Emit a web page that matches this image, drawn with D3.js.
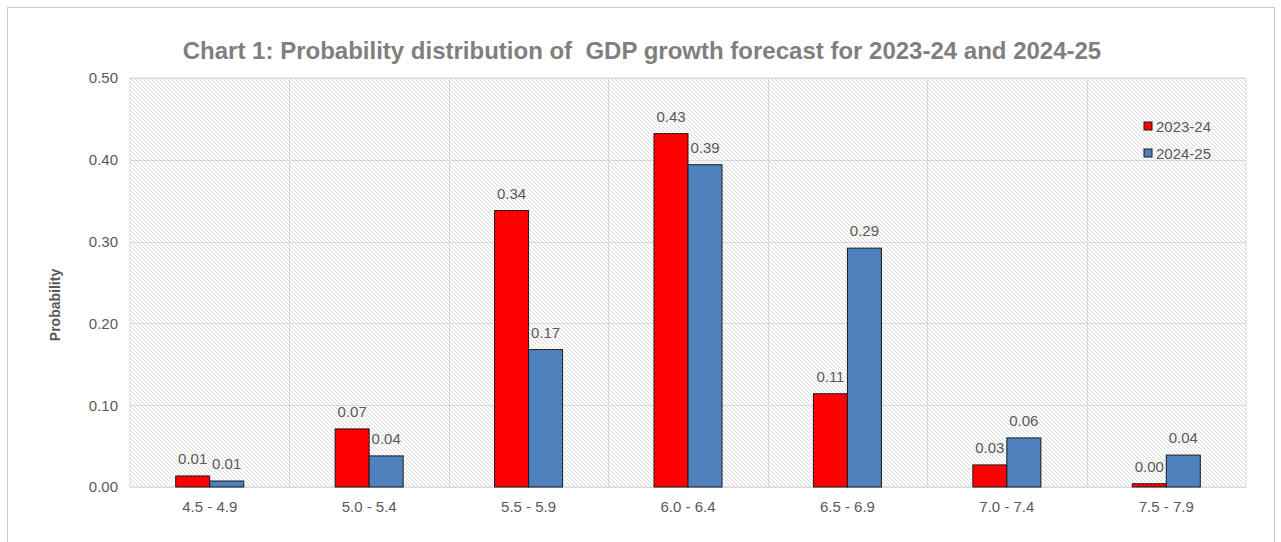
<!DOCTYPE html>
<html>
<head>
<meta charset="utf-8">
<script src="https://cdn.jsdelivr.net/npm/d3@7"></script>
<style>
  body { margin: 0; background: #fff; }
  text { font-family: Arial, "Liberation Sans", sans-serif; }
</style>
</head>
<body>
<div id="chart"></div>
<script>
// chart data
const categories = ["4.5 - 4.9", "5.0 - 5.4", "5.5 - 5.9", "6.0 - 6.4", "6.5 - 6.9", "7.0 - 7.4", "7.5 - 7.9"];
const seriesNames = ["2023-24", "2024-25"];
const values2324 = [0.0135, 0.071, 0.338, 0.432, 0.114, 0.027, 0.004];
const values2425 = [0.0073, 0.038, 0.168, 0.394, 0.292, 0.060, 0.039];
const yTicks = [0, 0.1, 0.2, 0.3, 0.4, 0.5];
const colors = ["#ff0000", "#4f81bd"];

const width = 1281;
const height = 542;
const margin = {left: 130, right: 35, top: 78, bottom: 55};

const svg = d3.select("#chart")
  .append("svg")
  .attr("width", width)
  .attr("height", height);

// hatch pattern for the plot background
const defs = svg.append("defs");
const pat = defs.append("pattern")
  .attr("id", "hatch")
  .attr("patternUnits", "userSpaceOnUse")
  .attr("width", 4)
  .attr("height", 4);
pat.append("rect").attr("width", 4).attr("height", 4).attr("fill", "#fff");
pat.append("path")
  .attr("d", "M-1,-1 L5,5 M-1,3 L1,5 M3,-1 L5,1")
  .attr("stroke", "#cfcfcf")
  .attr("stroke-width", 0.8);

// outer frame
svg.append("rect")
  .attr("x", 7.5).attr("y", 7.5)
  .attr("width", 1267).attr("height", 560)
  .attr("fill", "none")
  .attr("stroke", "#c8c8c8");

const x0 = d3.scaleBand()
  .domain(categories)
  .range([margin.left, width - margin.right]);

const x1 = d3.scaleBand()
  .domain(seriesNames)
  .range([0, 68]);

const y = d3.scaleLinear()
  .domain([0, 0.5])
  .range([height - margin.bottom, margin.top]);

// plot area
svg.append("rect")
  .attr("x", margin.left).attr("y", margin.top)
  .attr("width", width - margin.right - margin.left)
  .attr("height", y(0) - margin.top)
  .attr("fill", "url(#hatch)")
  .attr("stroke", "#d9d9d9");

// gridlines
svg.append("g")
  .selectAll("line")
  .data(yTicks)
  .join("line")
  .attr("x1", margin.left).attr("x2", width - margin.right)
  .attr("y1", d => Math.round(y(d)) + 0.5).attr("y2", d => Math.round(y(d)) + 0.5)
  .attr("stroke", "#d9d9d9");

svg.append("g")
  .selectAll("line")
  .data(categories.slice(1))
  .join("line")
  .attr("x1", d => Math.round(x0(d)) + 0.5).attr("x2", d => Math.round(x0(d)) + 0.5)
  .attr("y1", margin.top).attr("y2", y(0))
  .attr("stroke", "#d9d9d9");

// y axis
const yAxis = svg.append("g")
  .attr("transform", `translate(${margin.left},0)`)
  .call(d3.axisLeft(y).tickValues(yTicks).tickFormat(d3.format(".2f")).tickSize(0).tickPadding(12));
yAxis.select(".domain").remove();
yAxis.selectAll("text").attr("font-size", "15px").attr("fill", "#595959");

// x axis
const xAxis = svg.append("g")
  .attr("transform", `translate(0,${y(0)})`)
  .call(d3.axisBottom(x0).tickSize(0).tickPadding(14));
xAxis.select(".domain").attr("stroke", "#d9d9d9");
xAxis.selectAll("text").attr("font-size", "15px").attr("fill", "#595959");

// bars
const rows = categories.map((c, i) => ({cat: c, vals: [values2324[i], values2425[i]]}));
const groups = svg.append("g")
  .selectAll("g")
  .data(rows)
  .join("g")
  .attr("transform", d => `translate(${x0(d.cat) + x0.bandwidth() / 2 - 34},0)`);

groups.selectAll("rect")
  .data(d => d.vals.map((v, j) => ({name: seriesNames[j], v: v, j: j})))
  .join("rect")
  .attr("x", d => x1(d.name))
  .attr("y", d => y(d.v))
  .attr("width", x1.bandwidth())
  .attr("height", d => y(0) - y(d.v))
  .attr("fill", d => colors[d.j])
  .attr("stroke", "#1a1a1a")
  .attr("stroke-width", 1);

groups.selectAll("text")
  .data(d => d.vals.map((v, j) => ({name: seriesNames[j], v: v, j: j})))
  .join("text")
  .attr("x", d => x1(d.name) + x1.bandwidth() / 2)
  .attr("y", d => y(d.v) - 12)
  .attr("text-anchor", "middle")
  .attr("font-size", "15px")
  .attr("fill", "#595959")
  .text(d => d.v.toFixed(2));

// title
svg.append("text")
  .attr("x", 642).attr("y", 59)
  .attr("text-anchor", "middle")
  .attr("font-size", "24px")
  .attr("font-weight", "bold")
  .attr("fill", "#7f7f7f")
  .attr("xml:space", "preserve")
  .text("Chart 1: Probability distribution of  GDP growth forecast for 2023-24 and 2024-25");

// y axis title
svg.append("text")
  .attr("transform", `translate(60,305) rotate(-90)`)
  .attr("text-anchor", "middle")
  .attr("font-size", "14px")
  .attr("font-weight", "bold")
  .attr("fill", "#595959")
  .text("Probability");

// legend
const legend = svg.append("g")
  .selectAll("g")
  .data(seriesNames)
  .join("g")
  .attr("transform", (d, i) => `translate(1144,${122 + i * 27})`);
legend.append("rect")
  .attr("width", 8).attr("height", 8)
  .attr("fill", (d, i) => colors[i])
  .attr("stroke", "#1a1a1a");
legend.append("text")
  .attr("x", 12).attr("y", 9.5)
  .attr("font-size", "15px")
  .attr("fill", "#595959")
  .text(d => d);
</script>
</body>
</html>
